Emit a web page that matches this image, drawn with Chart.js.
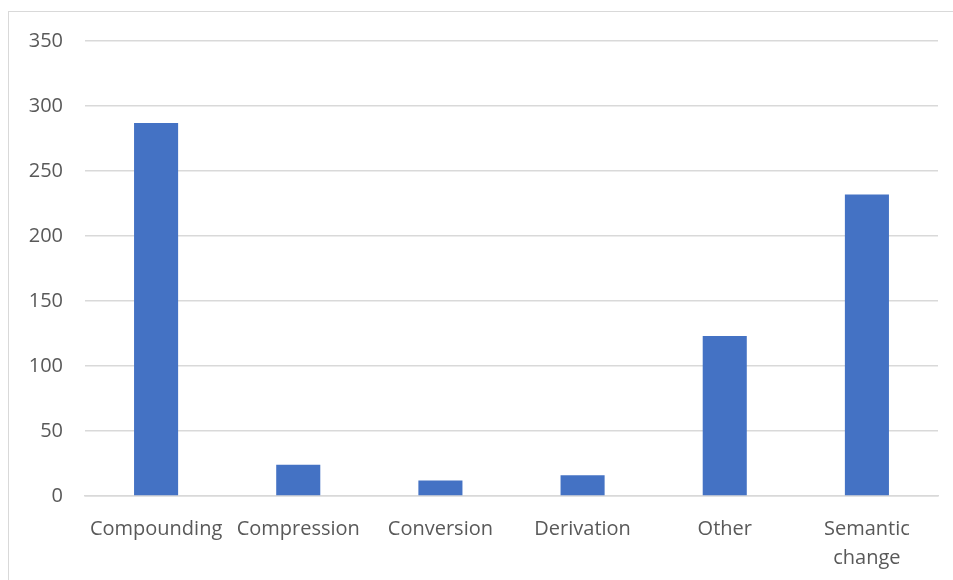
<!DOCTYPE html>
<html>
<head>
<meta charset="utf-8">
<script src="https://cdn.jsdelivr.net/npm/chart.js@4/dist/chart.umd.min.js"></script>
<style>
    html, body { margin: 0; padding: 0; background: #fff; }
    #wrap { position: relative; width: 953px; height: 580px; overflow: hidden; }
    #frame { position: absolute; left: 8px; top: 11px; width: 960px; height: 600px; border: 1px solid #d9d9d9; }
    #c { position: absolute; left: 0; top: 0; }
</style>
</head>
<body>
<div id="wrap">
    <div id="frame"></div>
    <canvas id="c" width="953" height="580"></canvas>
</div>
<script>
// Catégories et valeurs
const categories = ['Compounding', 'Compression', 'Conversion', 'Derivation', 'Other', ['Semantic', 'change']];
const valeurs = [287, 24, 12, 16, 123, 232];
const yTicks = [0, 50, 100, 150, 200, 250, 300, 350];

const police = "'Open Sans', 'Noto Sans', sans-serif";

const ctx = document.getElementById('c').getContext('2d');
new Chart(ctx, {
    type: 'bar',
    data: {
        labels: categories,
        datasets: [{
            data: valeurs,
            backgroundColor: '#4472c4',
            borderWidth: 0,
            categoryPercentage: 1,
            barPercentage: 0.31
        }]
    },
    options: {
        responsive: false,
        animation: false,
        layout: { padding: { top: 41, right: 15, left: 0, bottom: 0 } },
        plugins: {
            legend: { display: false },
            tooltip: { enabled: false }
        },
        scales: {
            x: {
                grid: { display: false, drawTicks: false },
                border: { display: true, color: '#d9d9d9', width: 1.5 },
                ticks: {
                    color: '#595959',
                    font: { family: police, size: 20, lineHeight: 1.45 },
                    padding: 19,
                    maxRotation: 0,
                    autoSkip: false
                },
                afterFit: scale => { scale.height = 84; }
            },
            y: {
                min: 0,
                max: 350,
                afterBuildTicks: scale => { scale.ticks = yTicks.map(v => ({ value: v })); },
                grid: { color: '#d9d9d9', lineWidth: 1.5, drawTicks: false },
                border: { display: false },
                ticks: {
                    color: '#595959',
                    font: { family: police, size: 20 },
                    padding: 22
                },
                afterFit: scale => { scale.width = 85; }
            }
        }
    }
});
</script>
</body>
</html>
